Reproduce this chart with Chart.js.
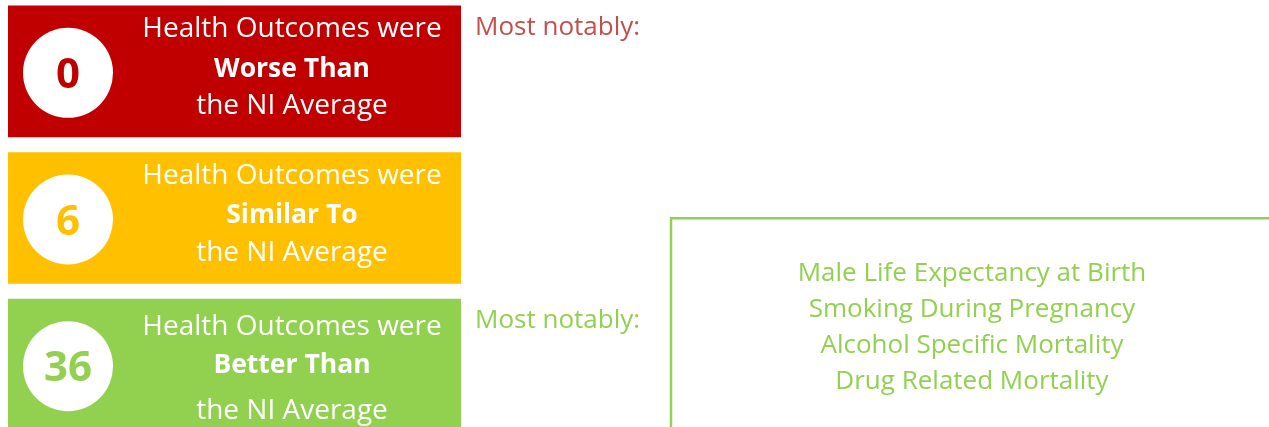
<!DOCTYPE html>
<html lang="en">
<head>
  <meta charset="UTF-8">
  <title>Health Outcomes vs NI Average</title>
  <script src="https://cdn.jsdelivr.net/npm/chart.js"></script>
  <style>
    body {
      margin: 0;
      background: #fff;
      overflow: hidden;
      width: 1269px;
      height: 427px;
      position: relative;
    }
    #wrap {
      position: absolute;
      left: 0;
      top: -2px;
      width: 1269px;
      height: 440px;
    }
  </style>
</head>
<body>
<div id="wrap">
<canvas id="grafico"></canvas>
</div>

<script>
  // data
  const categories = ['Worse Than', 'Similar To', 'Better Than'];
  const counts = [0, 6, 36];
  const headings = ['Most notably:', '', 'Most notably:'];
  const notable = [
    [],
    [],
    ['Male Life Expectancy at Birth', 'Smoking During Pregnancy', 'Alcohol Specific Mortality', 'Drug Related Mortality']
  ];
  const colors = ['#c00000', '#ffc000', '#92d050'];
  const headingColors = ['#c0504d', '#ffc000', '#92d050'];

  const FONT = "'Open Sans', sans-serif";

  // circles, numbers and the text round each panel
  const panelText = {
    id: 'panelText',
    afterDatasetsDraw(chart) {
      const ctx = chart.ctx;
      const bars = chart.getDatasetMeta(0).data;
      // baseline offsets of the three lines from the panel top
      const lineY = [[31, 71, 108], [31, 70, 108], [36, 74, 120]];
      ctx.save();
      bars.forEach((bar, i) => {
        const top = bar.y - bar.height / 2;
        const left = bar.base;

        // white circle with the count
        ctx.fillStyle = '#fff';
        ctx.beginPath();
        ctx.arc(left + 60, top + 67, 45, 0, Math.PI * 2);
        ctx.fill();
        ctx.fillStyle = colors[i];
        ctx.font = 'bold 42px ' + FONT;
        ctx.textAlign = 'center';
        ctx.textBaseline = 'alphabetic';
        ctx.fillText(String(counts[i]), left + 60, top + 82);

        // three lines of label
        const cx = left + 284;
        ctx.fillStyle = '#fff';
        ctx.font = '28px ' + FONT;
        ctx.fillText('Health Outcomes were', cx, top + lineY[i][0]);
        ctx.font = 'bold 26.5px ' + FONT;
        ctx.fillText(categories[i], cx, top + lineY[i][1]);
        ctx.font = '28px ' + FONT;
        ctx.fillText('the NI Average', cx, top + lineY[i][2]);

        // heading to the right
        if (headings[i]) {
          ctx.textAlign = 'left';
          ctx.fillStyle = headingColors[i];
          ctx.font = '26px ' + FONT;
          ctx.fillText(headings[i], bar.x + 14, top + 29);
        }

        // list of notable outcomes in an open box
        if (notable[i].length) {
          const bx = 671, by = top - 81;
          ctx.strokeStyle = colors[i];
          ctx.lineWidth = 2.5;
          ctx.beginPath();
          ctx.moveTo(bx, chart.height + 5);
          ctx.lineTo(bx, by);
          ctx.lineTo(chart.width + 5, by);
          ctx.stroke();

          ctx.fillStyle = colors[i];
          ctx.textAlign = 'center';
          ctx.font = '26px ' + FONT;
          notable[i].forEach((t, k) => {
            ctx.fillText(t, 972, by + 63 + k * 36);
          });
        }
      });
      ctx.restore();
    }
  };

  const ctx = document.getElementById('grafico').getContext('2d');

  new Chart(ctx, {
    type: 'bar',
    data: {
      labels: categories,
      datasets: [{
        data: categories.map(() => [0, 1]),
        backgroundColor: colors,
        borderWidth: 0,
        barThickness: 131
      }]
    },
    options: {
      indexAxis: 'y',
      responsive: true,
      maintainAspectRatio: false,
      animation: false,
      layout: { padding: { left: 8, right: 808, top: 0, bottom: 0 } },
      plugins: {
        legend: { display: false },
        tooltip: { enabled: false }
      },
      scales: {
        x: { display: false, min: 0, max: 1 },
        y: { display: false }
      }
    },
    plugins: [panelText]
  });
</script>

</body>
</html>
